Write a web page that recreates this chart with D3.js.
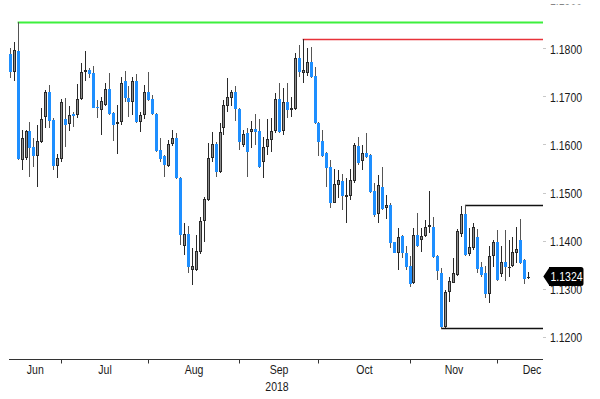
<!DOCTYPE html>
<html><head><meta charset="utf-8">
<script src="https://cdn.jsdelivr.net/npm/d3@7"></script>
<style>html,body{margin:0;padding:0;background:#fff;}svg{display:block;}</style>
</head><body>
<script>
const dates = [
"2018-06-12","2018-06-13","2018-06-14","2018-06-15","2018-06-18","2018-06-19","2018-06-20","2018-06-21","2018-06-22","2018-06-25","2018-06-26","2018-06-27","2018-06-28","2018-06-29",
"2018-07-02","2018-07-03","2018-07-04","2018-07-05","2018-07-06","2018-07-09","2018-07-10","2018-07-11","2018-07-12","2018-07-13","2018-07-16","2018-07-17","2018-07-18","2018-07-19","2018-07-20","2018-07-23","2018-07-24","2018-07-25","2018-07-26","2018-07-27","2018-07-30","2018-07-31",
"2018-08-01","2018-08-02","2018-08-03","2018-08-06","2018-08-07","2018-08-08","2018-08-09","2018-08-10","2018-08-13","2018-08-14","2018-08-15","2018-08-16","2018-08-17","2018-08-20","2018-08-21","2018-08-22","2018-08-23","2018-08-24","2018-08-27","2018-08-28","2018-08-29","2018-08-30","2018-08-31",
"2018-09-03","2018-09-04","2018-09-05","2018-09-06","2018-09-07","2018-09-10","2018-09-11","2018-09-12","2018-09-13","2018-09-14","2018-09-17","2018-09-18","2018-09-19","2018-09-20","2018-09-21","2018-09-24","2018-09-25","2018-09-26","2018-09-27","2018-09-28",
"2018-10-01","2018-10-02","2018-10-03","2018-10-04","2018-10-05","2018-10-08","2018-10-09","2018-10-10","2018-10-11","2018-10-12","2018-10-15","2018-10-16","2018-10-17","2018-10-18","2018-10-19","2018-10-22","2018-10-23","2018-10-24","2018-10-25","2018-10-26","2018-10-29","2018-10-30","2018-10-31",
"2018-11-01","2018-11-02","2018-11-05","2018-11-06","2018-11-07","2018-11-08","2018-11-09","2018-11-12","2018-11-13","2018-11-14","2018-11-15","2018-11-16","2018-11-19","2018-11-20","2018-11-21","2018-11-22","2018-11-23","2018-11-26","2018-11-27","2018-11-28","2018-11-29","2018-11-30",
"2018-12-03","2018-12-04","2018-12-05","2018-12-06","2018-12-07","2018-12-10","2018-12-11","2018-12-12"];

const open = [
1.1788,1.1750,1.1795,1.1568,1.1571,1.1627,1.1595,1.1575,1.1606,1.1658,
1.1709,1.1651,1.1556,1.1570,1.1653,1.1642,1.1663,1.1661,1.1695,1.1750,
1.1755,1.1748,1.1678,1.1672,1.1681,1.1715,1.1665,1.1642,1.1646,1.1731,
1.1696,1.1688,1.1733,1.1646,1.1661,1.1710,1.1695,1.1663,1.1589,1.1575,
1.1556,1.1600,1.1613,1.1531,1.1389,1.1413,1.1339,1.1339,1.1376,1.1441,
1.1485,1.1572,1.1600,1.1542,1.1634,1.1679,1.1697,1.1710,1.1674,1.1599,
1.1623,1.1625,1.1632,1.1627,1.1563,1.1595,1.1609,1.1627,1.1695,1.1627,
1.1689,1.1672,1.1673,1.1779,1.1749,1.1749,1.1772,1.1742,1.1645,1.1608,
1.1582,1.1553,1.1479,1.1516,1.1523,1.1491,1.1493,1.1523,1.1597,1.1566,
1.1583,1.1578,1.1504,1.1455,1.1511,1.1467,1.1474,1.1396,1.1375,1.1410,
1.1375,1.1347,1.1311,1.1412,1.1401,1.1410,1.1428,1.1429,1.1367,1.1333,
1.1220,1.1294,1.1312,1.1328,1.1414,1.1455,1.1372,1.1384,1.1407,1.1346,
1.1332,1.1289,1.1368,1.1396,1.1331,1.1356,1.1345,1.1347,1.1375,1.1401,
1.1360,1.1322];

const high = [
1.1800,1.1813,1.1855,1.1630,1.1630,1.1647,1.1613,1.1641,1.1676,1.1713,
1.1724,1.1655,1.1580,1.1695,1.1696,1.1679,1.1667,1.1725,1.1769,1.1794,
1.1760,1.1764,1.1693,1.1699,1.1727,1.1748,1.1668,1.1681,1.1741,1.1753,
1.1722,1.1741,1.1746,1.1668,1.1724,1.1750,1.1703,1.1665,1.1614,1.1578,
1.1609,1.1630,1.1623,1.1533,1.1436,1.1431,1.1384,1.1412,1.1450,1.1491,
1.1602,1.1625,1.1605,1.1644,1.1693,1.1738,1.1713,1.1722,1.1675,1.1630,
1.1634,1.1649,1.1663,1.1653,1.1616,1.1653,1.1654,1.1706,1.1727,1.1717,
1.1727,1.1699,1.1790,1.1807,1.1819,1.1800,1.1803,1.1762,1.1647,1.1630,
1.1585,1.1568,1.1548,1.1547,1.1539,1.1530,1.1548,1.1602,1.1615,1.1599,
1.1623,1.1580,1.1519,1.1537,1.1553,1.1495,1.1478,1.1398,1.1426,1.1412,
1.1389,1.1367,1.1426,1.1458,1.1426,1.1443,1.1504,1.1449,1.1370,1.1343,
1.1297,1.1324,1.1363,1.1424,1.1471,1.1474,1.1426,1.1436,1.1424,1.1356,
1.1347,1.1389,1.1401,1.1422,1.1389,1.1422,1.1401,1.1408,1.1429,1.1444,
1.1362,1.1335];

const low = [
1.1738,1.1731,1.1568,1.1547,1.1568,1.1533,1.1554,1.1512,1.1602,1.1634,
1.1635,1.1547,1.1531,1.1564,1.1595,1.1627,1.1637,1.1654,1.1693,1.1731,
1.1738,1.1675,1.1655,1.1620,1.1679,1.1661,1.1607,1.1580,1.1641,1.1688,
1.1658,1.1661,1.1644,1.1625,1.1653,1.1690,1.1661,1.1584,1.1564,1.1533,
1.1553,1.1597,1.1528,1.1391,1.1369,1.1332,1.1308,1.1337,1.1372,1.1398,
1.1482,1.1564,1.1533,1.1540,1.1620,1.1668,1.1679,1.1649,1.1589,1.1595,
1.1533,1.1592,1.1599,1.1552,1.1530,1.1578,1.1585,1.1623,1.1623,1.1620,
1.1654,1.1658,1.1672,1.1741,1.1727,1.1742,1.1738,1.1643,1.1575,1.1574,
1.1512,1.1467,1.1478,1.1488,1.1464,1.1436,1.1485,1.1519,1.1557,1.1547,
1.1571,1.1499,1.1450,1.1436,1.1464,1.1444,1.1384,1.1374,1.1339,1.1363,
1.1339,1.1304,1.1310,1.1387,1.1377,1.1408,1.1415,1.1364,1.1318,1.1218,
1.1218,1.1273,1.1311,1.1326,1.1408,1.1368,1.1368,1.1381,1.1333,1.1324,
1.1280,1.1271,1.1346,1.1316,1.1324,1.1315,1.1324,1.1345,1.1354,1.1351,
1.1310,1.1320];

const close = [
1.1750,1.1796,1.1570,1.1613,1.1627,1.1592,1.1575,1.1607,1.1652,1.1709,
1.1649,1.1556,1.1571,1.1688,1.1641,1.1661,1.1660,1.1695,1.1750,1.1755,
1.1746,1.1676,1.1675,1.1690,1.1715,1.1663,1.1641,1.1647,1.1727,1.1696,
1.1688,1.1733,1.1646,1.1661,1.1710,1.1693,1.1663,1.1586,1.1570,1.1557,
1.1600,1.1613,1.1530,1.1412,1.1413,1.1346,1.1348,1.1378,1.1441,1.1487,
1.1572,1.1600,1.1542,1.1625,1.1681,1.1699,1.1710,1.1674,1.1605,1.1621,
1.1584,1.1632,1.1625,1.1554,1.1595,1.1611,1.1628,1.1695,1.1625,1.1689,
1.1672,1.1676,1.1779,1.1751,1.1755,1.1772,1.1741,1.1644,1.1606,1.1576,
1.1550,1.1478,1.1518,1.1526,1.1493,1.1495,1.1525,1.1599,1.1561,1.1583,
1.1573,1.1502,1.1453,1.1516,1.1465,1.1474,1.1394,1.1375,1.1407,1.1374,
1.1346,1.1310,1.1412,1.1389,1.1410,1.1428,1.1433,1.1365,1.1337,1.1220,
1.1294,1.1315,1.1332,1.1419,1.1455,1.1370,1.1386,1.1428,1.1340,1.1328,
1.1289,1.1368,1.1396,1.1318,1.1356,1.1345,1.1346,1.1377,1.1382,1.1354,
1.1320,1.1324];

const yTicks = [1.12, 1.13, 1.14, 1.15, 1.16, 1.17, 1.18, 1.19];
const monthLabels = ["Jun","Jul","Aug","Sep","Oct","Nov","Dec"];
const monthEnds = ["2018-06-29","2018-07-31","2018-08-31","2018-09-28","2018-10-31","2018-11-30"];
const yearLabel = "2018";
const levelValues = [1.1855, 1.1819, 1.1474, 1.1218];
const levelStarts = ["2018-06-14","2018-09-24","2018-11-20","2018-11-12"];
const lastPrice = 1.1324;

const W = 600, H = 399;
const plotLeft = 9, plotRight = 543, axisY = 359;
const levelColors = ["#3df03d", "#e8323a", "#111", "#111"];
const levelWidths = [2, 1.6, 1.6, 1.6];
const BLUE = "#1e8fff", GREY = "#8e8e8e", DARK = "#2a2a2a";
const FONT = "'Liberation Sans', Arial, sans-serif";
const SX = 0.78;

const svg = d3.select("body").append("svg").attr("width", W).attr("height", H);
svg.append("rect").attr("width", W).attr("height", H).attr("fill", "#fff");
svg.append("defs").append("clipPath").attr("id", "labclip")
  .append("rect").attr("x", 540).attr("y", 4.5).attr("width", 60).attr("height", H);

const x = d3.scalePoint().domain(dates).range([9.7, 528.3]);
const y = d3.scaleLinear().domain([1.12, 1.18]).range([336.7, 48.3]);

const data = dates.map((d, i) => ({d, o: open[i], h: high[i], l: low[i], c: close[i]}));

// level lines
const lv = svg.append("g");
levelValues.forEach((v, i) => {
  const yy = Math.round(y(v)) + 0.5;
  lv.append("line").attr("x1", x(levelStarts[i])).attr("x2", plotRight)
    .attr("y1", yy).attr("y2", yy)
    .attr("stroke", levelColors[i]).attr("stroke-width", levelWidths[i]);
});

// candles
const cg = svg.append("g");
data.forEach(p => {
  const px = Math.round(x(p.d)) - 1;
  const up = p.c >= p.o;
  const yh = Math.round(y(p.h)), yl = Math.round(y(p.l));
  cg.append("line").attr("x1", px + 1.5).attr("x2", px + 1.5)
    .attr("y1", yh).attr("y2", yl)
    .attr("stroke", up ? DARK : "#555").attr("stroke-width", 1);
  const yt = Math.round(y(Math.max(p.o, p.c)));
  let yb = Math.round(y(Math.min(p.o, p.c)));
  if (yb - yt < 1) yb = yt + 1;
  if (up) {
    cg.append("rect").attr("x", px + 0.5).attr("y", yt + 0.5)
      .attr("width", 2).attr("height", Math.max(yb - yt - 1, 0.01))
      .attr("fill", GREY).attr("stroke", DARK).attr("stroke-width", 1);
  } else {
    cg.append("rect").attr("x", px).attr("y", yt)
      .attr("width", 3).attr("height", yb - yt)
      .attr("fill", BLUE);
  }
});

// x axis
const ax = svg.append("g");
ax.append("line").attr("x1", plotLeft).attr("x2", plotRight)
  .attr("y1", axisY + 0.5).attr("y2", axisY + 0.5)
  .attr("stroke", "#333").attr("stroke-width", 1);
const tickXs = monthEnds.map(d => Math.round(x(d)) + 0.5);
tickXs.forEach(tx => {
  ax.append("line").attr("x1", tx).attr("x2", tx)
    .attr("y1", axisY).attr("y2", axisY + 4.5)
    .attr("stroke", "#333").attr("stroke-width", 1);
});
const bounds = [plotLeft].concat(tickXs);
monthLabels.forEach((m, i) => {
  let cx;
  if (i < bounds.length - 1) cx = (bounds[i] + bounds[i + 1]) / 2;
  else cx = plotRight - 11;
  ax.append("text").attr("transform", `translate(${cx},374) scale(${SX},1)`)
    .attr("text-anchor", "middle").attr("font-family", FONT).attr("font-size", 13.5)
    .attr("fill", "#1a1a1a").text(m);
  if (m === "Sep") {
    ax.append("text").attr("transform", `translate(${cx - 2},391) scale(${SX},1)`)
      .attr("text-anchor", "middle").attr("font-family", FONT).attr("font-size", 13.5)
      .attr("fill", "#1a1a1a").text(yearLabel);
  }
});

// y axis labels (right)
const ay = svg.append("g").attr("clip-path", "url(#labclip)");
yTicks.forEach(t => {
  const yy = y(t);
  ay.append("line").attr("x1", 543).attr("x2", 546).attr("y1", Math.round(yy) + 0.5).attr("y2", Math.round(yy) + 0.5)
    .attr("stroke", "#c8c8c8").attr("stroke-width", 1);
  ay.append("text").attr("transform", `translate(550,${yy + 5.2}) scale(${SX},1)`)
    .attr("font-family", FONT).attr("font-size", 13.5).attr("fill", "#1a1a1a")
    .text(d3.format(".4f")(t));
});

// last price tag
const cy = y(lastPrice) - 0.5;
const tag = svg.append("g");
tag.append("path").attr("d",
  `M543.3,${cy} L549,${cy - 8.5} L549,${cy - 9.5} L581,${cy - 9.5} Q583.5,${cy - 9.5} 583.5,${cy - 7} L583.5,${cy + 7} Q583.5,${cy + 9.5} 581,${cy + 9.5} L549,${cy + 9.5} L549,${cy + 8.5} Z`)
  .attr("fill", "#000");
tag.append("text").attr("transform", `translate(550.5,${cy + 4.8}) scale(${SX},1)`)
  .attr("font-family", FONT).attr("font-size", 13.5).attr("fill", "#fff")
  .text(d3.format(".4f")(lastPrice));
</script>
</body></html>
